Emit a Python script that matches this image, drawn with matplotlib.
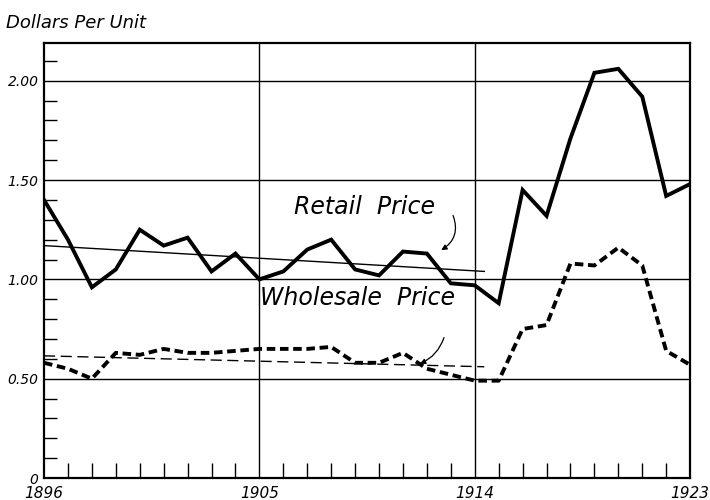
import matplotlib
matplotlib.use("Agg")
import matplotlib.pyplot as plt
from matplotlib.ticker import MultipleLocator

years = list(range(1896, 1924))
retail = [1.40, 1.20, 0.96, 1.05, 1.25, 1.17, 1.21, 1.04, 1.13, 1.00,
          1.04, 1.15, 1.20, 1.05, 1.02, 1.14, 1.13, 0.98, 0.97, 0.88,
          1.45, 1.32, 1.71, 2.04, 2.06, 1.92, 1.42, 1.48]
wholesale = [0.58, 0.55, 0.50, 0.63, 0.62, 0.65, 0.63, 0.63, 0.64, 0.65,
             0.65, 0.65, 0.66, 0.58, 0.58, 0.63, 0.55, 0.52, 0.49, 0.49,
             0.75, 0.77, 1.08, 1.07, 1.16, 1.07, 0.64, 0.57]
trend_years = [1896, 1914.4]
retail_trend = [1.17, 1.04]
wholesale_trend = [0.615, 0.56]
major_years = [1896, 1905, 1914, 1923]
ytick_vals = [0, 0.5, 1.0, 1.5, 2.0]
ytick_labels = ["0", "0.50", "1.00", "1.50", "2.00"]

fig = plt.figure(figsize=(7.1, 5.0), dpi=100)
ax = fig.add_axes([0.062, 0.044, 0.910, 0.870])

ax.set_xlim(1896, 1923)
ax.set_ylim(0, 2.19)

for y in [0.5, 1.0, 1.5, 2.0]:
    ax.axhline(y, color="black", lw=1.0, zorder=1)
for x in [1905, 1914]:
    ax.axvline(x, color="black", lw=1.0, zorder=1)

ax.plot(years, retail, color="black", lw=2.8, solid_joinstyle="miter", zorder=3)
ax.plot(years, wholesale, color="black", lw=2.8, linestyle=(0, (2.2, 1.2)), zorder=3)
ax.plot(trend_years, retail_trend, color="black", lw=1.0, zorder=2)
ax.plot(trend_years, wholesale_trend, color="black", lw=1.0, linestyle=(0, (8, 4)), zorder=2)

for s in ax.spines.values():
    s.set_linewidth(1.6)

ax.set_xticks(major_years)
ax.set_xticklabels([str(y) for y in major_years], fontstyle="italic", fontsize=11)
ax.xaxis.set_minor_locator(MultipleLocator(1))
ax.set_yticks(ytick_vals)
ax.set_yticklabels(ytick_labels, fontstyle="italic", fontsize=10)
ax.yaxis.set_minor_locator(MultipleLocator(0.1))
ax.tick_params(axis="x", which="both", direction="in", length=11, width=1.0, pad=6)
ax.tick_params(axis="x", which="major", length=0)
ax.tick_params(axis="y", which="minor", direction="in", length=9, width=1.0)
ax.tick_params(axis="y", which="major", length=0, pad=4)

fig.text(0.008, 0.955, "Dollars Per Unit", fontstyle="italic", fontsize=13, ha="left", va="center")

ax.text(1909.4, 1.365, "Retail  Price", fontstyle="italic", fontsize=17, ha="center", va="center")
ax.text(1909.1, 0.905, "Wholesale  Price", fontstyle="italic", fontsize=17, ha="center", va="center")

ax.annotate("", xy=(1912.5, 1.14), xytext=(1913.05, 1.335),
            arrowprops=dict(arrowstyle="-|>", color="black", lw=0.9,
                            connectionstyle="arc3,rad=-0.45", mutation_scale=8))
ax.annotate("", xy=(1911.6, 0.57), xytext=(1912.75, 0.72),
            arrowprops=dict(arrowstyle="-|>", color="black", lw=0.9,
                            connectionstyle="arc3,rad=-0.25", mutation_scale=8))

fig.savefig("out.png", dpi=100)
